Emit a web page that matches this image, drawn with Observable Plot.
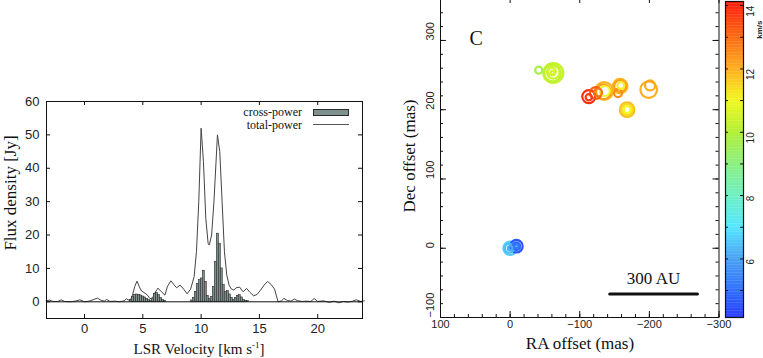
<!DOCTYPE html>
<html><head><meta charset="utf-8">
<script src="https://cdn.jsdelivr.net/npm/d3@7"></script>
<script src="https://cdn.jsdelivr.net/npm/@observablehq/plot@0.6"></script>
<style>
body{margin:0;background:#fff;}
#wrap{position:relative;width:763px;height:358px;overflow:hidden;background:#fff;}
#wrap svg{position:absolute;overflow:visible;}
.t{position:absolute;white-space:nowrap;color:#111;line-height:1;}
.serif{font-family:"Liberation Serif","Times New Roman",serif;}
</style></head><body><div id="wrap"></div>
<script>
// ---------- DATA ----------
// total-power spectrum (velocity km/s, flux Jy)
const tpVel  = [-3.3,-3.0,-2.7,-2.3,-2.0,-1.7,-1.2,-0.8,-0.4,0.0,0.4,0.8,1.1,1.4,1.7,1.9,2.2,2.6,3.0,3.4,3.6,3.9,4.1,4.3,4.5,4.7,4.9,5.1,5.4,5.6,5.8,6.0,6.3,6.6,6.9,7.1,7.4,7.7,7.9,8.2,8.5,8.8,9.1,9.4,9.6,9.8,10.0,10.2,10.4,10.6,10.7,10.9,11.1,11.4,11.6,11.8,12.0,12.2,12.4,12.6,12.8,13.0,13.3,13.6,13.9,14.2,14.5,14.8,15.1,15.4,15.7,16.0,16.3,16.6,16.9,17.1,17.4,17.7,18.0,18.3,18.7,19.0,19.4,19.7,20.0,20.5,21.0,21.4,21.8,22.2,22.6,23.0,23.3,23.7,24.0];
const tpFlux = [0.3,0.5,0.1,0.1,0.6,0.1,0.0,0.2,0.6,0.0,0.2,0.7,1.1,0.5,0.2,0.7,0.1,0.2,0.0,0.3,0.9,0.3,1.8,4.5,6.2,4.5,3.2,2.8,2.0,1.0,0.8,2.5,4.1,3.0,2.0,4.5,6.3,5.0,4.2,5.0,3.8,2.4,3.8,7.5,15,30,52,42,25,17.5,17,20,30,50,45,30,15,8,5,3.8,3.5,4.2,4.4,3.0,4.0,2.8,1.8,2.2,3.5,5.0,6.1,5.2,3.8,0.0,0.3,1.0,0.4,0.2,0.8,0.3,0.1,0.2,0.1,1.0,0.1,0.3,-0.2,0.2,-0.3,0.1,-0.1,0.2,0.6,0.1,0.3];
// cross-power spectrum channels
const cpVel  = [4.00,4.17,4.34,4.51,4.69,4.86,5.03,5.20,5.37,5.54,5.71,5.89,6.06,6.23,6.40,6.57,6.74,6.91,9.20,9.37,9.54,9.71,9.89,10.06,10.23,10.40,10.57,10.74,10.91,11.09,11.26,11.43,11.60,11.77,11.94,12.11,12.29,12.46,12.63,12.80,12.97,13.14,13.31,13.49,13.66,13.83,14.00];
const cpFlux = [0.5,1.5,2.0,2.2,2.1,1.9,1.6,1.3,0.9,0.5,0.2,1.0,2.3,2.6,2.0,1.1,0.6,0.3,0.4,1.2,3.0,5.3,6.5,7.0,9.3,6.0,1.8,0.8,1.5,4.5,12.0,20.4,17.4,10.0,5.0,3.0,3.2,2.2,1.2,0.6,1.2,1.8,2.0,1.3,0.6,0.3,0.2];
const specXTicks = [0,5,10,15,20];
const specYTicks = [0,10,20,30,40,50,60];
const legendLabels = ["cross-power","total-power"];

// maser spots: RA offset (mas), Dec offset (mas), LSR velocity (km/s), flux (Jy)
const spotRA   = [-41, -62,-61,-62,-60,-61, -113,-113, -123,-126, -135,-134,-136, -158,-158,-159, -155, -168,-168,-168, -199,-201, 0,1,0, -9,-9,-9];
const spotDec  = [257, 253,253,254,255,254, 219,218, 224,225, 227,226,227, 234,234,235, 224, 200,200,200, 229,235, 0,0,0, 3,3,3];
const spotVel  = [9.7, 10.3,10.2,10.4,10.5,10.6, 13.9,13.7, 13.2,12.9, 11.9,12.2,11.0, 11.9,12.2,11.1, 12.5, 11.8,11.4,11.0, 12.0,12.1, 6.6,6.4,6.2, 4.6,4.9,5.1];
const spotFlux = [2.5, 20,14,8,3,0.6, 8.5,2, 7,3.2, 16,11,5, 10.6,7,2.4, 3.2, 10.6,6,2.4, 13.8,5, 9,4,1, 8,3,0.8];
const raMajor = [100,0,-100,-200,-300];
const raMinor = d3.range(-300, 101, 20);
const decMajor = [-100,0,100,200,300];
const decMinor = d3.range(-100, 361, 20);
const scaleBarRA = [-143, -269];
const scaleBarDec = [-66, -66];
const scaleBarText = "300 AU";
const panelLetter = "C";
const cbTicks = [5,6,7,8,9,10,11,12,13,14];
const cbLabels = [6,8,10,12,14];
const cbUnit = "km/s";
const colorStops = [4.15,5,6,7,8,9,10,11,12,13,14.13];
const colorHex = ["#2a3cff","#3070ff","#4aa2f4","#52e8ff","#6ef0c2","#8cf080","#b2f032","#f2f820","#ffae1e","#ff6a12","#ff1c0c"];

// ---------- BUILD ----------
const wrap = document.getElementById("wrap");
const SANS = "'Liberation Sans', Arial, Helvetica, sans-serif";
const SERIF = "'Liberation Serif', 'Times New Roman', serif";
function put(node, left, top) { node.style.left = left + "px"; node.style.top = top + "px"; wrap.appendChild(node); }
function label(html, cx, cy, size, rot, cls) {
  const d = document.createElement("div");
  d.className = "t " + (cls || "serif");
  d.innerHTML = html;
  d.style.fontSize = size + "px";
  d.style.left = cx + "px"; d.style.top = cy + "px";
  d.style.transform = "translate(-50%,-50%)" + (rot ? " rotate(" + rot + "deg)" : "");
  wrap.appendChild(d);
}

// Left: spectrum
const tp = tpVel.map((v, i) => ({v, f: tpFlux[i]}));
const cp = cpVel.map((v, i) => ({v, f: cpFlux[i]}));
const chanW = 0.1714;
const S = {w: 380, h: 358, ml: 46, mr: 18, mt: 101, mb: 40};
const SIW = S.w - S.ml - S.mr, SIH = S.h - S.mt - S.mb;
const spec = Plot.plot({
  width: S.w, height: S.h, marginLeft: S.ml, marginRight: S.mr, marginTop: S.mt, marginBottom: S.mb,
  x: {domain: [-3.26, 23.84], axis: null}, y: {domain: [-5, 60], axis: null},
  style: {fontFamily: SANS, fontSize: "13px", color: "#222", background: "transparent", overflow: "visible"},
  marks: [
    Plot.line(tp, {x: "v", y: "f", stroke: "#444", strokeWidth: 1}),
    Plot.rect(cp, {x1: d => d.v - chanW / 2, x2: d => d.v + chanW / 2, y1: d => 0, y2: "f", fill: "#7f918e", stroke: "#2a2a2a", strokeWidth: 0.6}),
    Plot.ruleY([0], {stroke: "#111", strokeWidth: 1}),
    Plot.frame({stroke: "#111", strokeWidth: 1}),
    Plot.tickY(specYTicks, {y: d => d, insetRight: SIW - 4, stroke: "#111"}),
    Plot.tickY(specYTicks, {y: d => d, insetLeft: SIW - 4, stroke: "#111"}),
    Plot.tickX(specXTicks, {x: d => d, insetTop: SIH - 4, stroke: "#111"}),
    Plot.tickX(specXTicks, {x: d => d, insetBottom: SIH - 4, stroke: "#111"}),
    Plot.axisY(specYTicks, {tickSize: 0, tickPadding: 7, label: null, fontSize: 13}),
    Plot.axisX(specXTicks, {tickSize: 0, tickPadding: 5, label: null, fontSize: 13})
  ]
});
put(spec, 0, 0);
label("Flux density [Jy]", 10, 193, 17, -90);
label("LSR Velocity [km s<sup style='font-size:0.6em;vertical-align:0.7em'>-1</sup>]", 199, 349, 15, 0);
// legend
(function(){
  const t1 = document.createElement("div"); t1.className = "t serif"; t1.style.fontSize = "12px";
  t1.textContent = legendLabels[0]; t1.style.right = (763 - 302) + "px"; t1.style.top = "106px"; wrap.appendChild(t1);
  const t2 = document.createElement("div"); t2.className = "t serif"; t2.style.fontSize = "12px";
  t2.textContent = legendLabels[1]; t2.style.right = (763 - 302) + "px"; t2.style.top = "119px"; wrap.appendChild(t2);
  const sw = document.createElement("div"); sw.style.cssText = "position:absolute;left:313px;top:109px;width:34px;height:5px;background:#7f918e;border:1px solid #2a2a2a;";
  wrap.appendChild(sw);
  const ln = document.createElement("div"); ln.style.cssText = "position:absolute;left:313px;top:124px;width:36px;height:0;border-top:1px solid #555;";
  wrap.appendChild(ln);
})();

// Right: spot map
const colorOpts = {type: "linear", domain: colorStops, range: colorHex};
const spots = spotRA.map((ra, i) => ({ra, dec: spotDec[i], v: spotVel[i], flux: spotFlux[i]}));
const M = {w: 383, h: 361, ml: 60, mr: 44.5, mt: 0, mb: 41};
const MIW = M.w - M.ml - M.mr, MIH = M.h - M.mt - M.mb;
const bar = scaleBarRA.map((ra, i) => ({ra, dec: scaleBarDec[i]}));
const map = Plot.plot({
  width: M.w, height: M.h, marginLeft: M.ml, marginRight: M.mr, marginTop: M.mt, marginBottom: M.mb,
  x: {domain: [100, -300], axis: null}, y: {domain: [-100, 362], axis: null},
  r: {type: "sqrt", domain: [0, 20], range: [0, 10]},
  color: colorOpts,
  style: {fontFamily: SANS, fontSize: "11px", color: "#222", background: "transparent", overflow: "visible"},
  marks: [
    Plot.frame({stroke: "#111", strokeWidth: 1}),
    Plot.tickX(raMinor, {x: d => d, insetTop: MIH - 3, stroke: "#111"}),
    Plot.tickX(raMinor, {x: d => d, insetBottom: MIH - 3, stroke: "#111"}),
    Plot.tickX(raMajor, {x: d => d, insetTop: MIH - 6, stroke: "#111"}),
    Plot.tickX(raMajor, {x: d => d, insetBottom: MIH - 6, stroke: "#111"}),
    Plot.tickY(decMinor, {y: d => d, insetRight: MIW - 3, stroke: "#111"}),
    Plot.tickY(decMinor, {y: d => d, insetLeft: MIW - 3, stroke: "#111"}),
    Plot.tickY(decMajor, {y: d => d, insetRight: MIW - 6, stroke: "#111"}),
    Plot.tickY(decMajor, {y: d => d, insetLeft: MIW - 6, stroke: "#111"}),
    Plot.dot(spots, {x: "ra", y: "dec", r: "flux", stroke: "v", fill: "none", strokeWidth: 2.2, sort: {channel: "-r"}}),
    Plot.line(bar, {x: "ra", y: "dec", stroke: "#111", strokeWidth: 3}),
    Plot.text([scaleBarText], {x: () => (scaleBarRA[0] + scaleBarRA[1]) / 2, y: () => scaleBarDec[0], dy: -15, text: d => d, fontFamily: SERIF, fontSize: 17, fill: "#111"}),
    Plot.text([panelLetter], {frameAnchor: "top-left", dx: 29, dy: 33, text: d => d, fontFamily: SERIF, fontSize: 20, fill: "#111"}),
    Plot.text(decMajor, {y: d => d, frameAnchor: "left", dx: -10, rotate: -90, text: d => d3.format("d")(d), fontSize: 11, fill: "#222"}),
    Plot.axisX(raMajor, {tickSize: 0, tickPadding: 3, label: null, fontSize: 11, tickFormat: d3.format("d")})
  ]
});
put(map, 380, -3);
label("Dec offset (mas)", 409, 156, 17, -90);
label("RA offset (mas)", 580, 343, 17, 0);

// Colorbar
const cbStep = 0.05;
const cbSlices = d3.range(colorStops[0], colorStops[colorStops.length - 1], cbStep);
const C = {w: 38, h: 358, ml: 0, mr: 20, mt: 1, mb: 41};
const CIW = C.w - C.ml - C.mr;
const cbar = Plot.plot({
  width: C.w, height: C.h, marginLeft: C.ml, marginRight: C.mr, marginTop: C.mt, marginBottom: C.mb,
  x: {domain: [0, 1], axis: null},
  y: {domain: [colorStops[0], colorStops[colorStops.length - 1]], axis: null},
  color: colorOpts,
  style: {fontFamily: SANS, fontSize: "11px", color: "#222", background: "transparent", overflow: "visible"},
  marks: [
    Plot.rect(cbSlices, {x1: () => 0, x2: () => 1, y1: d => d, y2: d => Math.min(d + cbStep * 1.2, colorStops[colorStops.length - 1]), fill: d => d + cbStep / 2}),
    Plot.frame({stroke: "#111", strokeWidth: 1.2}),
    Plot.tickY(cbTicks, {y: d => d, insetRight: CIW - 3, stroke: "#111"}),
    Plot.tickY(cbTicks, {y: d => d, insetLeft: CIW - 3, stroke: "#111"}),
    Plot.text(cbLabels, {y: d => d, frameAnchor: "right", dx: 7, rotate: -90, text: d => String(d), fontSize: 10, fill: "#222"}),
    Plot.text([cbUnit], {frameAnchor: "top-right", dx: 12.5, dy: 19, rotate: -90, text: d => d, fontSize: 8, fontWeight: "bold", fill: "#222"})
  ]
});
put(cbar, 725, 0);
</script></body></html>
